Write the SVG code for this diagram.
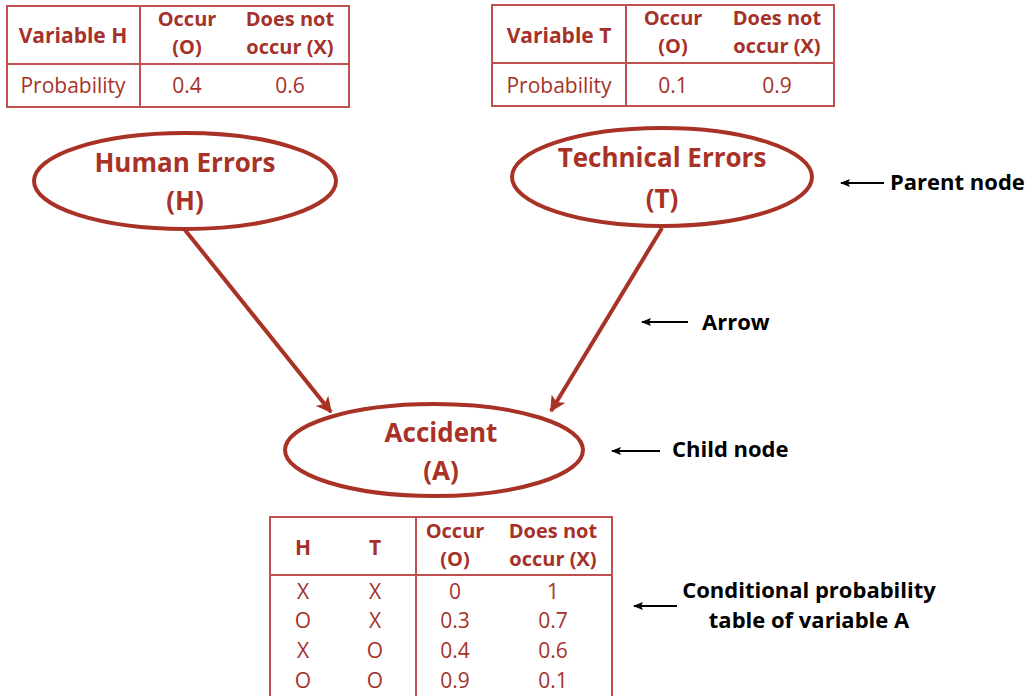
<svg xmlns="http://www.w3.org/2000/svg" width="1029" height="696" viewBox="0 0 1029 696">
<defs>
<style>
.t{font-family:"Open Sans","Liberation Sans",sans-serif;fill:#A5322A;text-anchor:middle;font-size:21px}
.b{font-weight:bold}
.h{font-size:20px}
.cell{fill:none;stroke:#C0504D;stroke-width:2}
.node{fill:#fff;stroke:#A93226;stroke-width:4}
.nt{font-family:"Open Sans","Liberation Sans",sans-serif;fill:#A93226;font-weight:bold;font-size:26px;text-anchor:middle}
.ann{font-family:"Open Sans","Liberation Sans",sans-serif;fill:#000;font-weight:bold;font-size:22px}
.edge{stroke:#A93226;stroke-width:4;fill:none}
.pt{stroke:#000;stroke-width:2;fill:none}
</style>
<marker id="ah" viewBox="0 0 10 10" refX="9" refY="5" markerWidth="4" markerHeight="4" orient="auto" markerUnits="strokeWidth">
<path d="M0,0 L10,5 L0,10 L2.5,5 z" fill="#A93226"/>
</marker>
<marker id="bh" viewBox="0 0 10 10" refX="9" refY="5" markerWidth="5" markerHeight="5" orient="auto" markerUnits="strokeWidth">
<path d="M0,1 L10,5 L0,9 L2,5 z" fill="#000"/>
</marker>
</defs>
<rect width="1029" height="696" fill="#fff"/>

<g id="tableH">
<rect class="cell" x="7" y="6" width="342" height="101"/>
<line class="cell" x1="140" y1="6" x2="140" y2="107"/>
<line class="cell" x1="7" y1="64" x2="349" y2="64"/>
<text class="t b" x="73" y="43">Variable H</text>
<text class="t b h" x="187" y="26">Occur</text>
<text class="t b h" x="187" y="54">(O)</text>
<text class="t b h" x="290" y="26">Does not</text>
<text class="t b h" x="290" y="54">occur (X)</text>
<text class="t" x="73" y="93">Probability</text>
<text class="t" x="187" y="93">0.4</text>
<text class="t" x="290" y="93">0.6</text>
</g>

<g id="tableT">
<rect class="cell" x="492" y="5" width="342" height="101"/>
<line class="cell" x1="626" y1="5" x2="626" y2="106"/>
<line class="cell" x1="492" y1="63" x2="834" y2="63"/>
<text class="t b" x="559" y="43">Variable T</text>
<text class="t b h" x="673" y="25">Occur</text>
<text class="t b h" x="673" y="53">(O)</text>
<text class="t b h" x="777" y="25">Does not</text>
<text class="t b h" x="777" y="53">occur (X)</text>
<text class="t" x="559" y="93">Probability</text>
<text class="t" x="673" y="93">0.1</text>
<text class="t" x="777" y="93">0.9</text>
</g>

<g id="connectors">
<line class="edge" x1="185" y1="230" x2="331" y2="412" marker-end="url(#ah)"/>
<line class="edge" x1="662" y1="228" x2="551" y2="411" marker-end="url(#ah)"/>
<line class="pt" x1="884" y1="183" x2="841" y2="183" marker-end="url(#bh)"/>
<line class="pt" x1="688" y1="322" x2="642" y2="322" marker-end="url(#bh)"/>
<line class="pt" x1="660" y1="451" x2="612" y2="451" marker-end="url(#bh)"/>
<line class="pt" x1="677" y1="606" x2="634" y2="606" marker-end="url(#bh)"/>
</g>

<g id="nodeH">
<ellipse class="node" cx="185" cy="181" rx="151" ry="48"/>
<text class="nt" x="185" y="172">Human Errors</text>
<text class="nt" x="185" y="210">(H)</text>
</g>

<g id="nodeT">
<ellipse class="node" cx="662" cy="177" rx="150" ry="49"/>
<text class="nt" x="662" y="167">Technical Errors</text>
<text class="nt" x="662" y="208">(T)</text>
</g>

<g id="nodeA">
<ellipse class="node" cx="434" cy="450" rx="149" ry="46"/>
<text class="nt" x="441" y="442">Accident</text>
<text class="nt" x="441" y="480">(A)</text>
</g>

<g id="tableA">
<path class="cell" d="M270,696 V517 H612 V696"/>
<line class="cell" x1="416" y1="517" x2="416" y2="696"/>
<line class="cell" x1="270" y1="575" x2="612" y2="575"/>
<text class="t b" x="303" y="555">H</text>
<text class="t b" x="375" y="555">T</text>
<text class="t b h" x="455" y="538">Occur</text>
<text class="t b h" x="455" y="566">(O)</text>
<text class="t b h" x="553" y="538">Does not</text>
<text class="t b h" x="553" y="566">occur (X)</text>
<text class="t" x="303" y="599">X</text>
<text class="t" x="375" y="599">X</text>
<text class="t" x="455" y="599">0</text>
<text class="t" x="553" y="599">1</text>
<text class="t" x="303" y="628">O</text>
<text class="t" x="375" y="628">X</text>
<text class="t" x="455" y="628">0.3</text>
<text class="t" x="553" y="628">0.7</text>
<text class="t" x="303" y="658">X</text>
<text class="t" x="375" y="658">O</text>
<text class="t" x="455" y="658">0.4</text>
<text class="t" x="553" y="658">0.6</text>
<text class="t" x="303" y="688">O</text>
<text class="t" x="375" y="688">O</text>
<text class="t" x="455" y="688">0.9</text>
<text class="t" x="553" y="688">0.1</text>
</g>

<g id="annotations">
<text class="ann" x="890" y="190">Parent node</text>
<text class="ann" x="702" y="330">Arrow</text>
<text class="ann" x="672" y="457">Child node</text>
<text class="ann" x="809" y="598" text-anchor="middle">Conditional probability</text>
<text class="ann" x="809" y="628" text-anchor="middle">table of variable A</text>
</g>
</svg>
